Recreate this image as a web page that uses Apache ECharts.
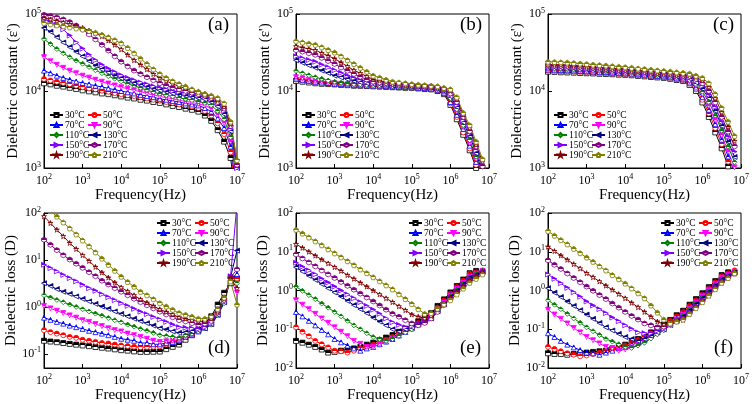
<!DOCTYPE html>
<html><head><meta charset="utf-8">
<script src="https://cdn.jsdelivr.net/npm/echarts@6/dist/echarts.min.js"></script>
<style>html,body{margin:0;padding:0;background:#fff}#c{width:756px;height:404px}</style>
</head><body><div id="c"></div>
<script>
const freq = [100,147,215,316,464,681,1000,1468,2154,3162,4642,6813,1e4,14678,21544,31623,46416,68129,1e5,146780,215443,316228,464159,681292,1e6,1467799,2154435,3162278,4641589,6812921,1e7];
const temps = ['30°C','50°C','70°C','90°C','110°C','130°C','150°C','170°C','190°C','210°C'];
const xTicks = ['10^2','10^3','10^4','10^5','10^6','10^7'];

const a30 = [12600,12200,11700,11400,11000,10600,10200,9900,9600,9300,9100,8800,8500,8200,8000,7700,7500,7200,7000,6700,6400,6200,5900,5700,5400,4800,4100,3100,2200,1350,320];
const a50 = [14300,13700,13200,12700,12200,11700,11200,10800,10500,10100,9800,9400,9100,8800,8600,8300,8000,7700,7500,7200,7000,6700,6500,6300,6000,5500,4800,3800,2750,1600,400];
const a70 = [18400,17000,15800,14800,14000,13300,12700,12200,11700,11300,10800,10400,10000,9600,9300,8900,8600,8300,7900,7700,7400,7200,6900,6700,6500,6000,5400,4400,3300,1900,500];
const a90 = [27500,24300,21900,20000,18300,17000,15800,14900,14000,13200,12500,11800,11200,10700,10200,9800,9300,8900,8500,8200,7900,7600,7300,7100,6800,6500,5900,4900,3800,2200,630];
const a110 = [47300,40700,35100,30900,27500,24800,22600,20500,18600,17000,15600,14400,13300,12400,11700,11000,10300,9700,9200,8800,8500,8100,7900,7600,7300,7000,6500,5500,4300,2500,800];
const a130 = [66100,58900,50100,42700,37200,32400,28200,24500,21400,19100,17400,15800,14600,13600,12700,12000,11400,10700,10200,9800,9300,9000,8700,8400,8100,7800,7200,6300,5000,3000,1000];
const a150 = [85100,79400,72400,63100,52500,42700,35500,29500,25100,21900,19500,17600,16000,14800,13800,12900,12200,11500,11000,10500,10000,9700,9300,9000,8700,8300,7800,6900,5500,3200,1000];
const a170 = [97700,94400,90200,85100,78500,70800,63100,54300,46800,39800,33500,28200,24000,20900,18400,16600,15100,13800,12600,11700,11100,10500,10000,9500,9100,8700,8100,7200,5900,3500,1100];
const a190 = [89100,85100,81300,77600,73500,69700,66100,61000,56200,51300,45200,39800,34700,29500,25100,21900,19100,16600,14800,13500,12400,11500,10800,10200,9700,9100,8500,7600,6200,3700,1260];
const a210 = [75900,73600,71300,69200,67100,65000,63100,60300,57100,53700,49800,45700,41700,36300,30900,26300,22400,19100,16600,14800,13400,12300,11400,10500,9800,9200,8700,8100,6900,4000,1260];

const b30 = [13500,13200,12900,12600,12400,12300,12200,12000,11900,11700,11700,11600,11500,11400,11300,11200,11100,11000,11000,10800,10600,10500,10000,9100,6600,4300,2700,1700,1000,560,320];
const b50 = [14100,13700,13400,13000,12800,12500,12300,12200,12000,11900,11800,11700,11600,11500,11400,11400,11300,11200,11100,11000,10800,10700,10200,9300,6900,4600,2900,1800,1100,620,350];
const b70 = [14500,14000,13600,13200,12900,12700,12400,12300,12200,12000,11900,11800,11700,11700,11600,11500,11400,11300,11200,11000,10900,10700,10400,9500,7200,4900,3200,1950,1200,680,380];
const b90 = [15100,14600,14000,13500,13200,12900,12600,12400,12200,12000,11900,11800,11700,11700,11600,11500,11400,11300,11200,11100,11000,10800,10500,9800,7800,5400,3400,2100,1300,740,420];
const b110 = [18200,17000,16000,15100,14400,13700,13200,12800,12500,12300,12200,12000,11900,11800,11700,11600,11500,11400,11400,11200,11100,11000,10600,10000,8100,5800,3600,2300,1400,810,450];
const b130 = [25100,23200,21500,20000,18400,17100,15800,15000,14200,13500,13000,12600,12300,12200,12000,11900,11700,11600,11500,11400,11200,11100,10700,10000,8500,6200,3900,2600,1550,870,490];
const b150 = [28200,26700,25300,24000,22000,20300,18600,17200,15800,14800,14000,13200,12600,12400,12200,12000,11900,11700,11600,11500,11400,11200,10800,10200,8900,6600,4200,2800,1700,950,540];
const b170 = [33900,32400,30900,29500,26900,24500,22400,20200,18300,16600,15300,14100,13200,12900,12600,12300,12100,11900,11700,11600,11500,11400,11100,10500,9300,7200,4600,3000,1900,1050,590];
const b190 = [38000,36600,35200,33900,31100,28600,26300,23400,20900,18600,17000,15500,14100,13600,13100,12600,12400,12100,11900,11700,11600,11500,11200,10700,10000,7800,4900,3300,2000,1200,650];
const b210 = [44200,42700,41200,39800,36900,34100,31600,28200,25100,22400,20000,17800,15800,14900,14000,13200,12900,12600,12300,12100,11900,11700,11500,11000,10500,8300,5200,3600,2200,1300,710];

const c30 = [17800,17700,17500,17400,17300,17100,17000,16900,16700,16600,16500,16300,16200,16000,15700,15500,15200,15000,14800,14400,13900,13500,12000,10000,7100,4600,2900,1800,1050,630,null];
const c50 = [18400,18300,18100,18000,17900,17700,17500,17400,17200,17100,17000,16700,16600,16400,16100,15900,15600,15400,15100,14800,14300,13900,12500,10500,7700,5100,3300,2040,1210,740,null];
const c70 = [19000,18900,18700,18600,18500,18200,18100,17900,17700,17600,17400,17200,17000,16800,16500,16300,15900,15700,15500,15100,14600,14200,12900,11100,8300,5700,3700,2330,1410,870,null];
const c90 = [19400,19200,19000,18900,18700,18500,18400,18200,18000,17800,17600,17400,17300,17000,16700,16500,16100,15900,15700,15300,14800,14400,13400,11700,9100,6400,4200,2670,1630,1020,null];
const c110 = [20000,19800,19600,19500,19300,19100,18900,18700,18500,18300,18100,17800,17700,17400,17100,16800,16500,16200,16000,15600,15200,14800,13900,12300,9800,7200,4800,3060,1900,1190,null];
const c130 = [20600,20400,20200,20100,19900,19600,19400,19200,19000,18800,18500,18300,18100,17800,17500,17200,16900,16600,16300,16000,15500,15200,14500,12900,10700,8000,5500,3500,2200,1390,null];
const c150 = [20900,20800,20600,20400,20200,19900,19700,19500,19200,19000,18800,18500,18300,18000,17700,17400,17100,16800,16500,16200,15700,15400,15000,13600,11600,9000,6200,4000,2550,1630,null];
const c170 = [21500,21400,21200,21000,20800,20500,20200,20000,19700,19500,19200,18900,18700,18400,18000,17800,17400,17100,16800,16500,16100,15700,15600,14300,12600,10000,7100,4600,2960,1910,null];
const c190 = [22100,22000,21800,21600,21400,21000,20800,20500,20200,20000,19700,19400,19100,18800,18400,18200,17800,17500,17200,16900,16400,16100,16200,15100,13600,11200,8000,5300,3440,2240,null];
const c210 = [24000,23800,23600,23400,23100,22700,22400,22000,21700,21400,21000,20700,20400,20000,19600,19300,18900,18500,18200,17900,17500,17200,16800,15800,14800,12600,9100,6000,4000,2600,null];

const d30 = [0.19,0.183,0.177,0.17,0.163,0.157,0.151,0.146,0.14,0.135,0.13,0.125,0.12,0.117,0.113,0.11,0.11,0.111,0.112,0.126,0.141,0.158,0.2,0.25,0.32,0.45,0.63,1.12,2.0,3.2,4.0];
const d50 = [0.32,0.29,0.27,0.25,0.23,0.22,0.2,0.19,0.18,0.17,0.166,0.158,0.151,0.147,0.142,0.138,0.14,0.142,0.145,0.158,0.174,0.19,0.23,0.27,0.32,0.38,0.46,0.76,1.51,4.2,4.0];
const d70 = [0.59,0.53,0.48,0.44,0.4,0.37,0.34,0.31,0.29,0.27,0.25,0.23,0.21,0.2,0.19,0.17,0.17,0.16,0.16,0.17,0.18,0.2,0.23,0.26,0.3,0.36,0.44,0.69,1.32,4.0,5.0];
const d90 = [1.05,0.93,0.83,0.74,0.66,0.59,0.52,0.48,0.43,0.39,0.35,0.32,0.3,0.27,0.25,0.23,0.21,0.19,0.18,0.185,0.19,0.2,0.23,0.26,0.3,0.35,0.42,0.66,1.26,3.8,2.0];
const d110 = [1.78,1.58,1.41,1.26,1.12,1.0,0.89,0.8,0.72,0.65,0.58,0.52,0.47,0.42,0.38,0.34,0.31,0.28,0.25,0.24,0.23,0.22,0.25,0.27,0.3,0.35,0.42,0.66,1.2,4.0,3.2];
const d130 = [3.2,2.8,2.4,2.1,1.89,1.67,1.48,1.31,1.16,1.02,0.91,0.8,0.71,0.63,0.56,0.5,0.45,0.4,0.35,0.33,0.3,0.28,0.29,0.3,0.32,0.35,0.43,0.68,1.26,4.3,15.8];
const d150 = [7.9,6.7,5.7,4.8,4.1,3.5,2.95,2.5,2.2,1.86,1.61,1.39,1.2,1.05,0.91,0.79,0.7,0.61,0.54,0.48,0.42,0.37,0.36,0.35,0.34,0.37,0.45,0.71,1.32,4.5,158];
const d170 = [27,21,16.2,12.6,10.2,8.3,6.8,5.5,4.5,3.6,3.0,2.5,2.1,1.77,1.49,1.26,1.08,0.93,0.79,0.69,0.6,0.52,0.49,0.45,0.42,0.44,0.5,0.76,1.41,4.2,6.3];
const d190 = [85,61,44,32,23,17.1,12.6,9.5,7.1,5.4,4.2,3.3,2.6,2.15,1.77,1.45,1.23,1.05,0.89,0.78,0.69,0.6,0.56,0.52,0.49,0.5,0.56,0.79,1.5,4.0,2.5];
const d210 = [148,111,84,63,47,35,26,19.5,14.5,10.7,7.9,5.9,4.4,3.4,2.7,2.1,1.77,1.46,1.2,1.02,0.87,0.74,0.68,0.62,0.56,0.56,0.63,0.89,1.58,3.5,1.12];

const e30 = [0.05,0.045,0.04,0.035,0.03,0.025,0.026,0.028,0.03,0.032,0.035,0.04,0.045,0.052,0.061,0.071,0.086,0.104,0.126,0.161,0.206,0.26,0.4,0.59,0.89,1.31,1.92,2.8,3.2,null,null];
const e50 = [0.112,0.086,0.066,0.05,0.041,0.034,0.028,0.027,0.025,0.028,0.032,0.035,0.04,0.046,0.054,0.063,0.076,0.093,0.112,0.145,0.186,0.24,0.36,0.55,0.83,1.23,1.82,2.7,2.95,3.3,null];
const e70 = [0.28,0.215,0.165,0.126,0.096,0.074,0.056,0.046,0.038,0.032,0.028,0.032,0.035,0.041,0.048,0.056,0.069,0.085,0.105,0.134,0.171,0.22,0.34,0.52,0.79,1.17,1.71,2.5,2.8,3.2,null];
const e90 = [0.56,0.43,0.33,0.25,0.19,0.147,0.112,0.086,0.066,0.05,0.042,0.035,0.035,0.041,0.048,0.056,0.068,0.083,0.1,0.128,0.163,0.21,0.32,0.49,0.74,1.09,1.6,2.3,2.7,3.2,null];
const e110 = [1.26,0.98,0.76,0.6,0.46,0.36,0.28,0.215,0.165,0.126,0.1,0.079,0.063,0.056,0.05,0.056,0.068,0.083,0.1,0.126,0.158,0.2,0.3,0.46,0.71,1.04,1.52,2.24,2.7,3.2,null];
const e130 = [4.0,3.1,2.4,1.88,1.47,1.14,0.89,0.7,0.54,0.42,0.33,0.26,0.2,0.158,0.126,0.1,0.089,0.1,0.112,0.134,0.16,0.19,0.29,0.44,0.68,0.98,1.44,2.1,2.5,3.0,null];
const e150 = [5.2,4.1,3.3,2.6,2.0,1.6,1.26,1.0,0.79,0.63,0.5,0.4,0.32,0.25,0.19,0.151,0.13,0.112,0.12,0.139,0.161,0.186,0.28,0.43,0.66,0.95,1.38,2.0,2.4,2.95,null];
const e170 = [8.5,6.7,5.3,4.2,3.3,2.6,2.1,1.66,1.32,1.05,0.83,0.66,0.52,0.41,0.32,0.25,0.21,0.171,0.141,0.126,0.145,0.19,0.28,0.42,0.63,0.91,1.3,1.86,2.3,2.9,null];
const e190 = [15.8,12.6,10,7.9,6.3,5.0,4.0,3.2,2.5,2.0,1.58,1.26,1.0,0.79,0.63,0.5,0.39,0.31,0.24,0.21,0.19,0.22,0.32,0.45,0.63,0.89,1.26,1.78,2.24,2.8,null];
const e210 = [37,29.5,23.4,18.6,14.7,11.6,9.1,7.2,5.7,4.5,3.5,2.8,2.2,1.73,1.36,1.07,0.8,0.6,0.45,0.33,0.25,0.26,0.34,0.44,0.56,0.79,1.12,1.58,2.0,2.6,null];

const f30 = [0.024,0.023,0.023,0.022,0.023,0.024,0.025,0.026,0.027,0.028,0.032,0.035,0.04,0.047,0.056,0.066,0.083,0.105,0.132,0.174,0.23,0.3,0.43,0.6,0.85,1.22,1.75,2.5,2.95,null,null];
const f50 = [0.035,0.031,0.027,0.024,0.022,0.02,0.021,0.023,0.025,0.027,0.03,0.034,0.038,0.045,0.053,0.063,0.079,0.1,0.126,0.165,0.215,0.28,0.4,0.56,0.79,1.14,1.63,2.34,2.8,3.3,null];
const f70 = [0.079,0.063,0.05,0.04,0.034,0.029,0.025,0.024,0.022,0.025,0.028,0.032,0.035,0.041,0.048,0.056,0.071,0.089,0.112,0.149,0.198,0.26,0.37,0.53,0.76,1.09,1.56,2.24,2.6,3.0,null];
const f90 = [0.32,0.24,0.185,0.141,0.108,0.083,0.063,0.052,0.043,0.035,0.032,0.028,0.03,0.034,0.039,0.045,0.058,0.074,0.095,0.13,0.177,0.24,0.34,0.49,0.71,1.02,1.48,2.14,2.5,3.0,null];
const f110 = [0.56,0.43,0.33,0.25,0.19,0.147,0.112,0.089,0.071,0.056,0.048,0.041,0.035,0.033,0.038,0.045,0.058,0.074,0.095,0.127,0.169,0.224,0.32,0.46,0.66,0.95,1.38,2.0,2.4,2.95,null];
const f130 = [1.15,0.88,0.68,0.52,0.4,0.31,0.24,0.186,0.145,0.112,0.093,0.076,0.063,0.056,0.05,0.056,0.068,0.083,0.1,0.128,0.163,0.21,0.3,0.44,0.63,0.91,1.32,1.9,2.35,2.9,null];
const f150 = [2.6,2.0,1.54,1.17,0.9,0.69,0.52,0.41,0.33,0.26,0.2,0.16,0.126,0.102,0.083,0.079,0.079,0.091,0.105,0.13,0.161,0.2,0.28,0.4,0.58,0.85,1.24,1.82,2.3,2.8,null];
const f170 = [6.0,4.6,3.6,2.75,2.1,1.63,1.26,0.98,0.76,0.6,0.46,0.36,0.28,0.22,0.178,0.141,0.126,0.112,0.117,0.137,0.16,0.186,0.26,0.38,0.54,0.79,1.16,1.7,2.2,2.75,null];
const f190 = [13.5,10.4,8.0,6.2,4.8,3.7,2.8,2.2,1.71,1.33,1.04,0.81,0.63,0.48,0.37,0.28,0.21,0.158,0.135,0.147,0.16,0.174,0.25,0.35,0.5,0.74,1.08,1.58,2.1,2.7,null];
const f210 = [34,26,20,15.5,11.9,9.2,7.1,5.5,4.2,3.3,2.5,1.96,1.51,1.13,0.85,0.63,0.41,0.27,0.178,0.141,0.158,0.178,0.25,0.35,0.5,0.74,1.08,1.58,2.1,2.8,null];

const colors = ['#000000','#ff0000','#0000ff','#ff00ff','#008000','#000080','#8000ff','#800080','#800000','#808000'];
const symbols = ['rect','circle','triangle','path://M0,0L10,0L5,9Z','diamond','path://M9,0L9,10L0,5Z','path://M0,0L0,10L9,5Z','path://M5,0L9.3,2.5L9.3,7.5L5,10L0.7,7.5L0.7,2.5Z','path://M5,0L6.2,3.6L10,3.6L7,5.9L8.1,9.5L5,7.3L1.9,9.5L3,5.9L0,3.6L3.8,3.6Z','path://M5,0L10,3.6L8.1,9.5L1.9,9.5L0,3.6Z'];

const FONT = 'Liberation Serif';
const panels = [
  {L:44, T:14, H:154, ymin:1e3, ymax:1e5, yn:"Dielectric constant (\u03b5')", tag:'(a)', tx:208, ty:16, leg:'bl', d:[a30,a50,a70,a90,a110,a130,a150,a170,a190,a210]},
  {L:296, T:14, H:154, ymin:1e3, ymax:1e5, yn:"Dielectric constant (\u03b5')", tag:'(b)', tx:460, ty:16, leg:'bl', d:[b30,b50,b70,b90,b110,b130,b150,b170,b190,b210]},
  {L:548, T:14, H:154, ymin:1e3, ymax:1e5, yn:"Dielectric constant (\u03b5')", tag:'(c)', tx:713, ty:16, leg:'bl', d:[c30,c50,c70,c90,c110,c130,c150,c170,c190,c210]},
  {L:44, T:213, H:155, ymin:0.05, ymax:100, yn:'Dielectric loss (D)', tag:'(d)', tx:208, ty:339, leg:'tr', d:[d30,d50,d70,d90,d110,d130,d150,d170,d190,d210]},
  {L:296, T:213, H:155, ymin:0.01, ymax:100, yn:'Dielectric loss (D)', tag:'(e)', tx:460, ty:339, leg:'tr', d:[e30,e50,e70,e90,e110,e130,e150,e170,e190,e210]},
  {L:548, T:213, H:155, ymin:0.01, ymax:100, yn:'Dielectric loss (D)', tag:'(f)', tx:714, ty:339, leg:'tr', d:[f30,f50,f70,f90,f110,f130,f150,f170,f190,f210]}
];
const W = 193;

function expLabel(v){
  const e = Math.log10(v), r = Math.round(e);
  if (Math.abs(e - r) > 1e-6) return '';
  return '{n|10}{s|' + r + '}';
}
const rich = {n:{fontSize:12, fontFamily:FONT, color:'#000'}, s:{fontSize:8, fontFamily:FONT, color:'#000', padding:[0,0,7,0]}};

function half(c){
  return {type:'linear', x:0, y:0, x2:0, y2:1, colorStops:[{offset:0,color:c},{offset:0.5,color:c},{offset:0.5,color:'#ffffff'},{offset:1,color:'#ffffff'}]};
}

const grid=[], xAxis=[], yAxis=[], series=[], legend=[], graphic=[];
panels.forEach((p, pi) => {
  grid.push({left:p.L, top:p.T, width:W, height:p.H, show:true, borderColor:'#000', borderWidth:1, containLabel:false});
  xAxis.push({type:'log', logBase:10, gridIndex:pi, min:100, max:1e7,
    name:'Frequency(Hz)', nameLocation:'middle', nameGap:19,
    nameTextStyle:{fontSize:15, fontFamily:FONT, color:'#000'},
    axisLine:{show:true, lineStyle:{color:'#000', width:1}},
    axisTick:{show:true, inside:true, length:4, lineStyle:{color:'#000'}},
    axisLabel:{formatter:expLabel, rich:rich, margin:5},
    splitLine:{show:false}});
  yAxis.push({type:'log', logBase:10, gridIndex:pi, min:p.ymin, max:p.ymax,
    name:p.yn, nameLocation:'middle', nameGap:23, nameRotate:90,
    nameTextStyle:{fontSize:15, fontFamily:FONT, color:'#000'},
    axisLine:{show:true, lineStyle:{color:'#000', width:1}},
    axisTick:{show:true, inside:true, length:4, lineStyle:{color:'#000'}},
    axisLabel:{formatter:expLabel, rich:rich, margin:3},
    splitLine:{show:false}});
  p.d.forEach((vals, si) => {
    series.push({type:'line', name:temps[si], xAxisIndex:pi, yAxisIndex:pi,
      data: freq.map((f, i) => [f, vals[i]]),
      symbol:symbols[si], symbolSize:5, clip:true,
      lineStyle:{color:colors[si], width:1},
      itemStyle:{color:half(colors[si]), borderColor:colors[si], borderWidth:0.8},
      emphasis:{disabled:true}, animation:false});
  });
  const c1 = [temps[0],temps[2],temps[4],temps[6],temps[8]];
  const c2 = [temps[1],temps[3],temps[5],temps[7],temps[9]];
  const lx1 = p.leg==='bl' ? p.L+5 : p.L+112;
  const lx2 = p.leg==='bl' ? p.L+43 : p.L+150;
  const ly = p.leg==='bl' ? 110 : 218;
  [[c1,lx1],[c2,lx2]].forEach(([names, lx]) => {
    legend.push({orient:'vertical', left:lx, top:ly, itemWidth:13, itemHeight:5, itemGap:0, padding:0,
      selectedMode:false, data:names,
      textStyle:{fontSize:9.5, lineHeight:10, height:10, fontFamily:FONT, color:'#000', padding:[0,0,0,-3]}});
  });
  graphic.push({type:'text', left:p.tx, top:p.ty, style:{text:p.tag, font:'19px "Liberation Serif"', fill:'#000'}});
});

const chart = echarts.init(document.getElementById('c'), null, {renderer:'canvas'});
chart.setOption({backgroundColor:'#fff', animation:false, grid, xAxis, yAxis, series, legend, graphic});
</script>
</body></html>
